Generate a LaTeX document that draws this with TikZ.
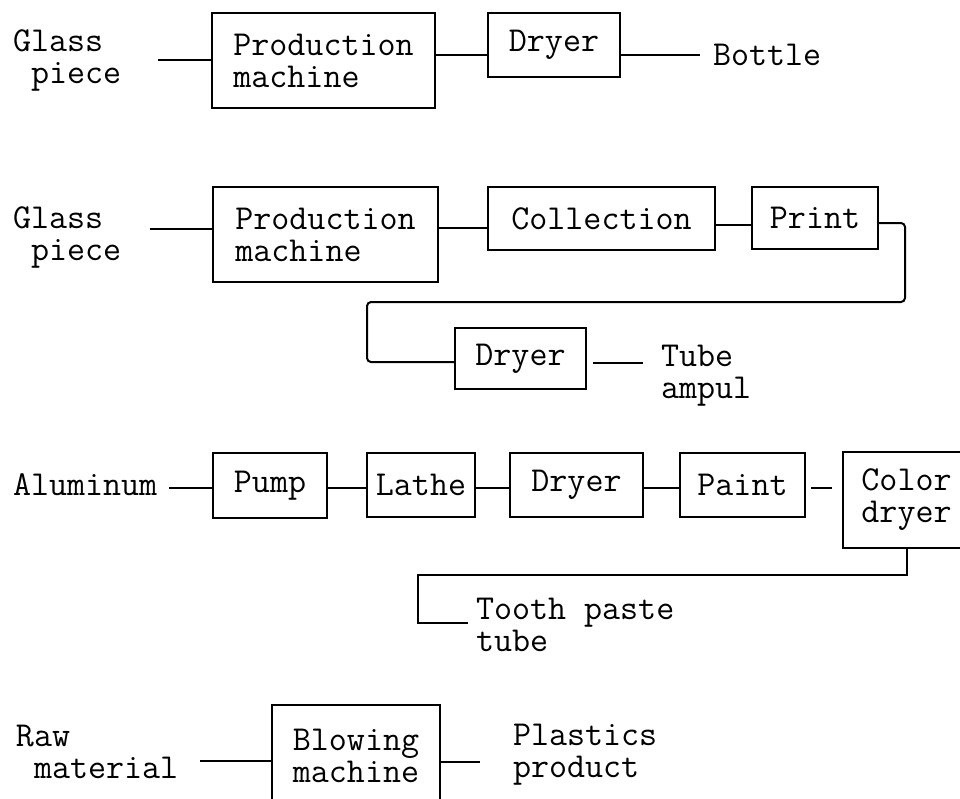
\documentclass[tikz,border=0pt]{standalone}
\usepackage{fontspec}

\begin{document}
\begin{tikzpicture}[x=1pt, y=-1pt, line width=2pt,
  every node/.style={font=\ttfamily\fontsize{35}{32}\selectfont, inner sep=0pt, align=left},
  box/.style={draw, rectangle}]
			\useasboundingbox (0,0) rectangle (960,798);
			\clip (0,0) rectangle (960,798);

			% Bottle line
			\node (gp1) at (12,60) [anchor=west] {Glass\\\hphantom{G}piece};
			\node (pm1) at (323.5,60.5) [box, minimum width=223pt, minimum height=95pt] {Production\\machine};
			\node (dr1) at (554,45) [box, minimum width=132pt, minimum height=64pt] {Dryer};
			\node (bt1) at (712,55) [anchor=west] {Bottle};

			\draw[shorten <=36pt] (gp1.east) -- (gp1.east -| pm1.west);
			\draw (pm1.east |- bt1.west) -- (dr1.west |- bt1.west);
			\draw[shorten >=12pt] (dr1.east |- bt1.west) -- (bt1.west);

			% Tube ampul line
			\node (gp2) at (12,237) [anchor=west] {Glass\\\hphantom{G}piece};
			\node (pm2) at (325.5,234.5) [box, minimum width=225pt, minimum height=95pt] {Production\\machine};
			\node (co2) at (601.5,218.5) [box, minimum width=227pt, minimum height=63pt] {Collection};
			\node (pr2) at (815,218) [box, minimum width=126pt, minimum height=62pt] {Print};
			\node (dr2) at (520.5,358.5) [box, minimum width=131pt, minimum height=61pt] {Dryer};
			\node (tb2) at (660,376) [anchor=west] {Tube\\ampul};

			\draw[shorten <=28pt] (gp2.east |- 0,229) -- (pm2.west |- 0,229);
			\draw (pm2.east |- 0,228) -- (co2.west |- 0,228);
			\draw (co2.east |- 0,225) -- (pr2.west |- 0,225);
			\draw[rounded corners=4pt] (pr2.east |- 0,223) -| (905,302) -| (367,362) -- (dr2.west |- 0,362);
			\draw[shorten <=6pt, shorten >=17pt] (dr2.east |- 0,363) -- (tb2.west |- 0,363);

			% Tooth paste line
			\node (al3) at (12,485) [anchor=west] {Aluminum};
			\node (pu3) at (270,485.5) [box, minimum width=114pt, minimum height=65pt] {Pump};
			\node (la3) at (421,485) [box, minimum width=108pt, minimum height=64pt] {Lathe};
			\node (dr3) at (576.5,485) [box, minimum width=133pt, minimum height=64pt] {Dryer};
			\node (pa3) at (742.5,485) [box, minimum width=125pt, minimum height=64pt] {Paint};
			\node (cd3) at (906.5,500) [box, minimum width=127pt, minimum height=96pt] {Color\\dryer};
			\node (tp3) at (475,625) [anchor=west] {Tooth paste\\tube};

			\draw[shorten <=11pt] (al3.east |- 0,488) -- (pu3.west |- 0,488);
			\draw (pu3.east |- 0,488) -- (la3.west |- 0,488);
			\draw (la3.east |- 0,488) -- (dr3.west |- 0,488);
			\draw (dr3.east |- 0,488) -- (pa3.west |- 0,488);
			\draw[shorten <=5pt, shorten >=10pt] (pa3.east |- 0,488) -- (cd3.west |- 0,488);
			\draw[shorten >=7pt] (cd3.south) |- (418,575) |- (tp3.west |- 0,623);

			% Plastics line
			\node (rm4) at (15,752) [anchor=west] {Raw\\\hphantom{R}material};
			\node (bm4) at (356,756) [box, minimum width=168pt, minimum height=102pt] {Blowing\\machine};
			\node (pp4) at (512,755) [anchor=west] {Plastics\\product};

			\draw[shorten <=21pt] (rm4.east |- 0,761) -- (bm4.west |- 0,761);
			\draw[shorten >=32pt] (bm4.east |- 0,762) -- (pp4.west |- 0,762);
		\end{tikzpicture}
\end{document}
